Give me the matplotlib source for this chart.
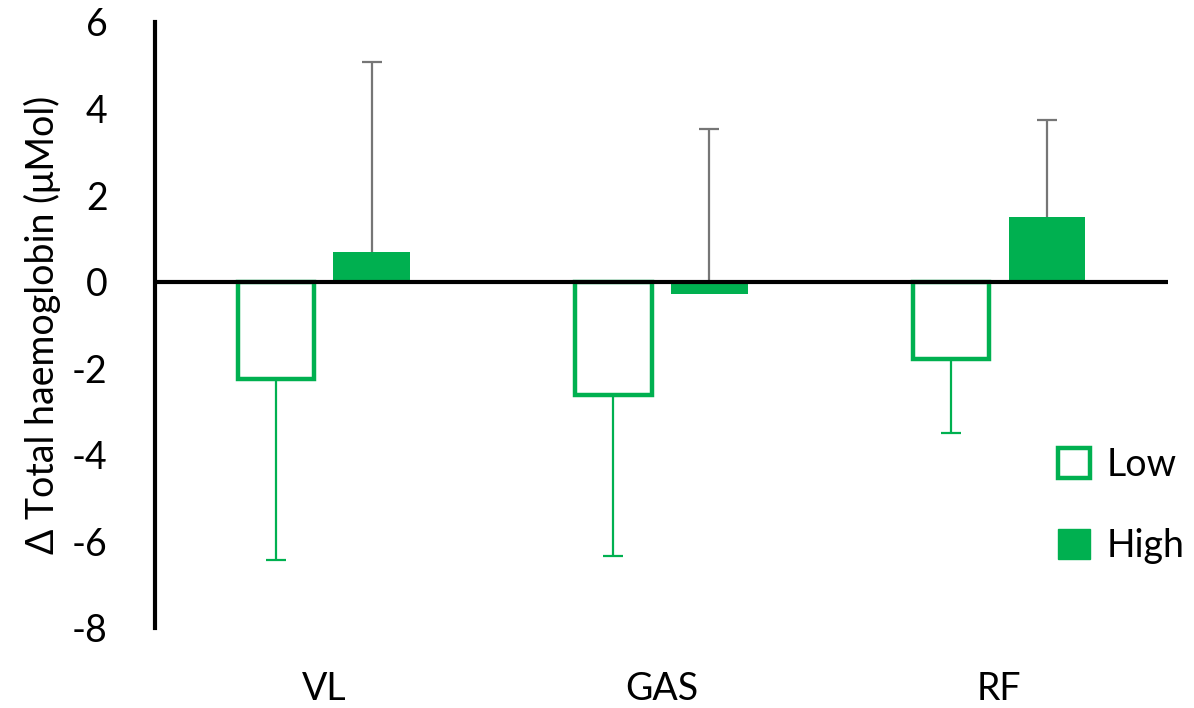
import matplotlib.pyplot as plt
import numpy as np
from matplotlib.patches import Patch

plt.rcParams['font.family'] = ['Lato', 'DejaVu Sans']
plt.rcParams['axes.unicode_minus'] = False

categories = ['VL', 'GAS', 'RF']
low_mean = [-2.24, -2.61, -1.78]
low_err = [4.18, 3.72, 1.71]
high_mean = [0.69, -0.28, 1.50]
high_err = [4.39, 3.81, 2.24]

green = '#00B050'
grey = '#767676'

fig = plt.figure(figsize=(11.94, 7.08), dpi=100)
ax = fig.add_axes([0.1298, 0.113, 0.8482, 0.856])

x = np.arange(len(categories))
w = 0.227
off = 0.142

ax.bar(x - off, low_mean, w, facecolor='white', edgecolor=green, linewidth=3.2, zorder=2)
eb_low = ax.errorbar(x - off, low_mean, yerr=[low_err, [0] * 3], fmt='none', ecolor=green,
                     elinewidth=1.6, capsize=7, capthick=1.6, zorder=1)
eb_low[1][1].set_visible(False)  # one-sided: keep only the lower cap

ax.bar(x + off, high_mean, w, color=green, linewidth=0, zorder=2)
eb_high = ax.errorbar(x + off, high_mean, yerr=[[0] * 3, high_err], fmt='none', ecolor=grey,
                      elinewidth=1.6, capsize=7, capthick=1.6, zorder=1)
eb_high[1][0].set_visible(False)  # one-sided: keep only the upper cap

ax.axhline(0, color='black', linewidth=3, zorder=3)

ax.set_xlim(-0.5, 2.5)
ax.set_ylim(-8, 6)
ax.set_yticks(np.arange(-8, 7, 2))
ax.set_xticks(x)
ax.set_xticklabels(categories)
ax.tick_params(axis='x', length=0, pad=31, labelsize=27)
ax.tick_params(axis='y', length=0, pad=34, labelsize=27)

for s in ['top', 'right', 'bottom']:
    ax.spines[s].set_visible(False)
ax.spines['left'].set_linewidth(3)

ax.set_ylabel('Δ Total haemoglobin (μMol)', fontsize=27, labelpad=8)

handles = [Patch(facecolor='white', edgecolor=green, linewidth=3.2, label='Low'),
           Patch(facecolor=green, edgecolor=green, label='High')]
ax.legend(handles=handles, loc='lower right', bbox_to_anchor=(1.05, 0.05), frameon=False,
          fontsize=27, handlelength=0.85, handleheight=0.85, handletextpad=0.45, labelspacing=1.2)

fig.savefig('out.png', dpi=100)
